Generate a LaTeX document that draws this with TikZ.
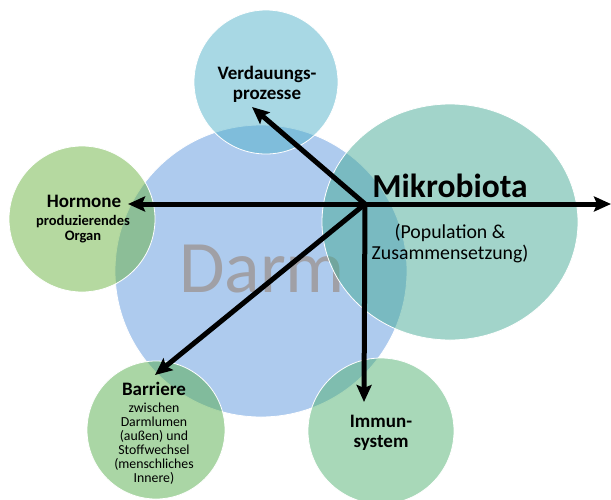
\documentclass[tikz,border=0pt]{standalone}
\usepackage{fontspec}
\setmainfont{Carlito}
\usetikzlibrary{arrows.meta,shapes.geometric}
\definecolor{darmblue}{RGB}{174,203,238}
\definecolor{verdcol}{RGB}{81,177,201}
\definecolor{mikrocol}{RGB}{70,170,150}
\definecolor{hormcol}{RGB}{107,179,65}
\definecolor{barrcol}{RGB}{85,173,75}
\definecolor{immcol}{RGB}{81,177,113}
\definecolor{darmtext}{RGB}{160,160,166}
\begin{document}
\begin{tikzpicture}[x=1pt,y=-1pt,
  bubble/.style={circle,draw=white,line width=0.8pt,fill opacity=0.5,inner sep=0pt},
  bigbold/.style={font=\fontsize{19}{20}\selectfont\bfseries,inner sep=0pt,anchor=base},
  smallbold/.style={font=\fontsize{14.5}{15}\selectfont\bfseries,inner sep=0pt,anchor=base},
  smallreg/.style={font=\fontsize{13.8}{14}\selectfont,inner sep=0pt,anchor=base},
  midreg/.style={font=\fontsize{19.8}{22}\selectfont,inner sep=0pt,anchor=base},
  link/.style={line width=5pt,-{Stealth[length=17pt,width=15pt,inset=3pt]}}]
\useasboundingbox (0,0) rectangle (611,499);
% Darm
\node[circle,draw=white,line width=0.8pt,fill=darmblue,minimum size=292pt,inner sep=0pt] (cDarm) at (261,271) {};
\node[font=\fontsize{74}{80}\selectfont,text=darmtext,inner sep=0pt,anchor=base] (tDarm) at (262,292) {Darm};
% satellites
\node[bubble,fill=verdcol,minimum size=144pt] (cVerd) at (266,82) {};
\node[ellipse,draw=white,line width=0.8pt,fill=mikrocol,fill opacity=0.5,inner sep=0pt,minimum width=256pt,minimum height=236pt] (cMikro) at (450,222) {};
\node[bubble,fill=hormcol,minimum size=146pt] (cHorm) at (82,219) {};
\node[bubble,fill=barrcol,minimum size=138pt] (cBarr) at (156,430) {};
\node[bubble,fill=immcol,minimum size=146pt] (cImm) at (381,431) {};
% texts
\node[bigbold] (tV1) at (267,79) {Verdauungs-};
\node[bigbold] (tV2) at (267,99) {prozesse};
\node[bigbold] (tH1) at (84,207) {Hormone};
\node[smallbold] (tH2) at (83,225) {produzierendes};
\node[smallbold] (tH3) at (83,240) {Organ};
\node[font=\fontsize{33.5}{36}\selectfont\bfseries,inner sep=0pt,anchor=base] (tM1) at (450,197) {Mikrobiota};
\node[midreg] (tM2) at (450,238) {(Population \&};
\node[midreg] (tM3) at (450,259) {Zusammensetzung)};
\node[bigbold] (tB1) at (154,395) {Barriere};
\node[smallreg] (tB2) at (154,412) {zwischen};
\node[smallreg] (tB3) at (154,426) {Darmlumen};
\node[smallreg] (tB4) at (154,440) {(außen) und};
\node[smallreg] (tB5) at (154,454) {Stoffwechsel};
\node[smallreg] (tB6) at (154,468) {(menschliches};
\node[smallreg] (tB7) at (154,482) {Innere)};
\node[bigbold] (tI1) at (381,427) {Immun-};
\node[bigbold] (tI2) at (381,447) {system};
% arrows
\coordinate (hub) at (365,204);
\coordinate (aV) at (252,107);
\coordinate (aH) at (128,204);
\coordinate (aR) at (611,204);
\coordinate (aB) at (155,375);
\coordinate (aI) at (364,402);
\draw[link] (hub) -- (aV);
\draw[link] (hub) -- (aH);
\draw[link] (hub) -- (aR);
\draw[link] (hub) -- (aB);
\draw[link] (hub) -- (aI);
\end{tikzpicture}
\end{document}
